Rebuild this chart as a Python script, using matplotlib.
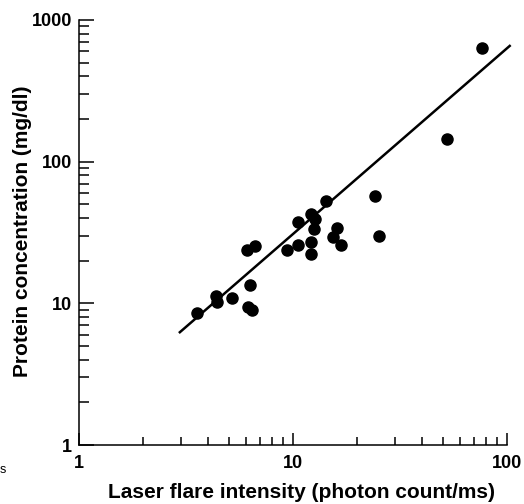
import matplotlib
matplotlib.use("Agg")
import matplotlib.pyplot as plt
from matplotlib.ticker import LogLocator, NullFormatter, FixedLocator, FixedFormatter

# Data (log-log scatter)
flare = [3.55, 4.35, 4.40, 5.17, 6.27, 6.07, 6.62, 6.14, 6.41, 9.33,
         10.5, 12.2, 12.2, 10.6, 12.2, 12.7, 12.6, 14.2, 16.1, 15.4,
         16.8, 24.2, 25.3, 52.5, 76.4]
protein = [8.6, 11.3, 10.2, 10.9, 13.5, 23.8, 25.4, 9.4, 9.0, 23.8,
           25.8, 22.3, 27.1, 37.5, 42.7, 39.4, 33.5, 52.7, 34.0, 29.4,
           25.8, 57.2, 29.9, 144, 633]
fit_x = [2.93, 104]
fit_y = [6.17, 665]

x_ticks = [1, 10, 100]
x_tick_labels = ["1", "10", "100"]
y_ticks = [1, 10, 100, 1000]
y_tick_labels = ["1", "10", "100", "1000"]

FONT = "Liberation Sans"
plt.rcParams['font.family'] = [FONT, 'DejaVu Sans']

fig = plt.figure(figsize=(5.24, 5.04), dpi=100)
ax = fig.add_axes([79/524, 1-445/504, (507-79)/524, (445-20)/504])

ax.set_xscale('log')
ax.set_yscale('log')
ax.set_xlim(1, 100)
ax.set_ylim(1, 1000)

ax.plot(fit_x, fit_y, color='black', lw=1.8, clip_on=False, solid_capstyle='butt')
ax.plot(flare, protein, 'o', color='black', ms=8, mec='black', clip_on=False)

for s in ['top', 'right']:
    ax.spines[s].set_visible(False)
for s in ['left', 'bottom']:
    ax.spines[s].set_linewidth(1.1)

ax.xaxis.set_major_locator(FixedLocator(x_ticks))
ax.xaxis.set_major_formatter(FixedFormatter(x_tick_labels))
ax.yaxis.set_major_locator(FixedLocator(y_ticks))
ax.yaxis.set_major_formatter(FixedFormatter(y_tick_labels))
ax.xaxis.set_minor_locator(LogLocator(base=10, subs=range(2, 10)))
ax.yaxis.set_minor_locator(LogLocator(base=10, subs=range(2, 10)))
ax.xaxis.set_minor_formatter(NullFormatter())
ax.yaxis.set_minor_formatter(NullFormatter())

ax.tick_params(axis='y', which='major', direction='in', length=11, width=1.1,
               labelsize=13, pad=5)
ax.tick_params(axis='y', which='minor', direction='in', length=7, width=1.1)
ax.tick_params(axis='x', which='major', direction='in', length=9, width=1.1,
               labelsize=13, pad=7)
ax.tick_params(axis='x', which='minor', direction='in', length=5.5, width=1.1)
for lab in ax.get_xticklabels() + ax.get_yticklabels():
    lab.set_fontweight('bold')

fig.text(301/524, 1-492/504, "Laser flare intensity (photon count/ms)",
         ha='center', va='center', fontsize=15, fontweight='bold')
fig.text(23/524, 1-231/504, "Protein concentration (mg/dl)",
         ha='center', va='center', rotation=90, fontsize=15, fontweight='bold')
fig.text(0/524, 1-470/504, "s", ha='left', va='center', fontsize=9)

fig.savefig("out.png", dpi=100)
